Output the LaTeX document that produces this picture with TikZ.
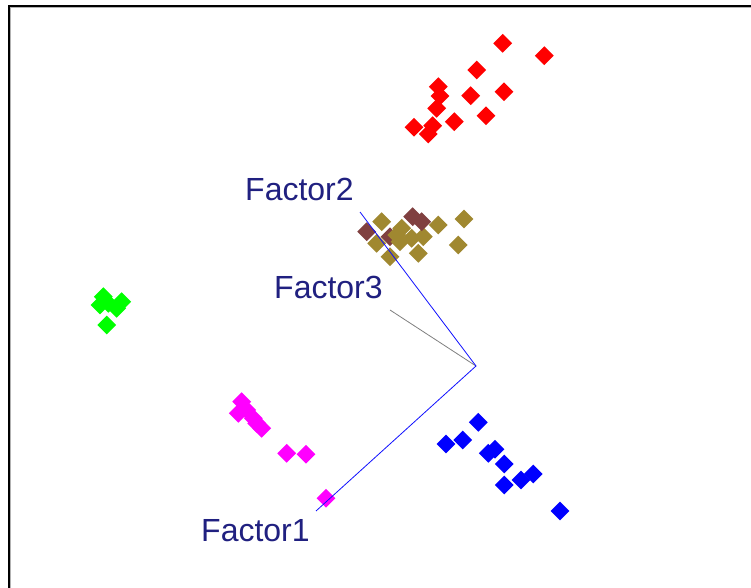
\documentclass[tikz,border=0pt]{standalone}
\usepackage{fontspec}
\setmainfont{Liberation Sans}
\usetikzlibrary{shapes.geometric}
\definecolor{olivepts}{RGB}{160,136,48}
\definecolor{brownpts}{RGB}{128,64,64}
\definecolor{redpts}{RGB}{255,0,0}
\definecolor{bluepts}{RGB}{0,0,255}
\definecolor{magentapts}{RGB}{255,0,255}
\definecolor{greenpts}{RGB}{0,255,0}
\definecolor{labelnavy}{RGB}{32,32,128}
\definecolor{axisblue}{RGB}{16,16,255}
\tikzset{
  pt/.style={diamond,inner sep=0pt,minimum size=19bp,draw=none},
  lbl/.style={anchor=base west,inner sep=0pt,text=labelnavy,font=\fontsize{32bp}{32bp}\selectfont},
  axisline/.style={axisblue,line width=0.8bp},
}
\begin{document}
\begin{tikzpicture}[x=1bp,y=-1bp]
\useasboundingbox (0,0) rectangle (751,588);
\fill[white] (0,0) rectangle (751,588);
% frame
\draw[black,line width=1.5bp] (9,588) -- (9,6) -- (751,6);
\draw[gray!60,line width=1bp] (10.7,588) -- (10.7,7.7) -- (751,7.7);
% red
\foreach \x/\y [count=\i] in {502.7/43.3,544.3/55.7,476.7/70,438.3/86.7,440/96,504/91.7,470.7/95.7,436.7/108.3,486/115.7,454.3/121.7,414/127.3,432.7/125.7,428.3/134}
  \node[pt,fill=redpts] (r\i) at (\x,\y) {};
% brown and olive
\foreach \x/\y [count=\i] in {366.7/231.7,390/236.7}
  \node[pt,fill=brownpts] (b\i) at (\x,\y) {};
\foreach \x/\y [count=\i] in {381.7/221.7,438.3/225,464/219,376.7/243.3,401.7/228.3,400/241.7,411.7/238.3,423.3/236.7,418.3/253.3,458.3/245,390/256.7,396.7/235}
  \node[pt,fill=olivepts] (o\i) at (\x,\y) {};
\foreach \x/\y [count=\i from 3] in {412.7/216.7,421.7/221.7}
  \node[pt,fill=brownpts] (b\i) at (\x,\y) {};
% blue
\foreach \x/\y [count=\i] in {478.3/422.3,446/444,462.7/440,488.3/453.3,495/449.3,504.3/464,504.3/485,521/480,533.3/474,560/511}
  \node[pt,fill=bluepts] (u\i) at (\x,\y) {};
% magenta
\foreach \x/\y [count=\i] in {241.7/401.7,238.3/413.3,246.7/410,253.3/418.3,256.7/423.3,261.7/428.3,286.7/453.3,306/454.3,326/498.3}
  \node[pt,fill=magentapts] (m\i) at (\x,\y) {};
% green
\foreach \x/\y [count=\i] in {103.3/296.7,100/305,108.3/303.3,121.7/301.7,116.7/308.3,106.7/325}
  \node[pt,fill=greenpts] (g\i) at (\x,\y) {};
% axes
\coordinate (orig) at (476,366);
\coordinate (f1e) at (316,511);
\coordinate (f2e) at (360,212);
\coordinate (f3e) at (390,310);
\draw[gray,line width=0.8bp] (orig) -- (f3e);
\draw[axisline] (f1e) -- (orig) -- (f2e);
% labels
\node[lbl] (l1) at (201,541) {Factor1};
\node[lbl] (l2) at (245,201) {Factor2};
\node[lbl] (l3) at (274,298) {Factor3};
\end{tikzpicture}
\end{document}
